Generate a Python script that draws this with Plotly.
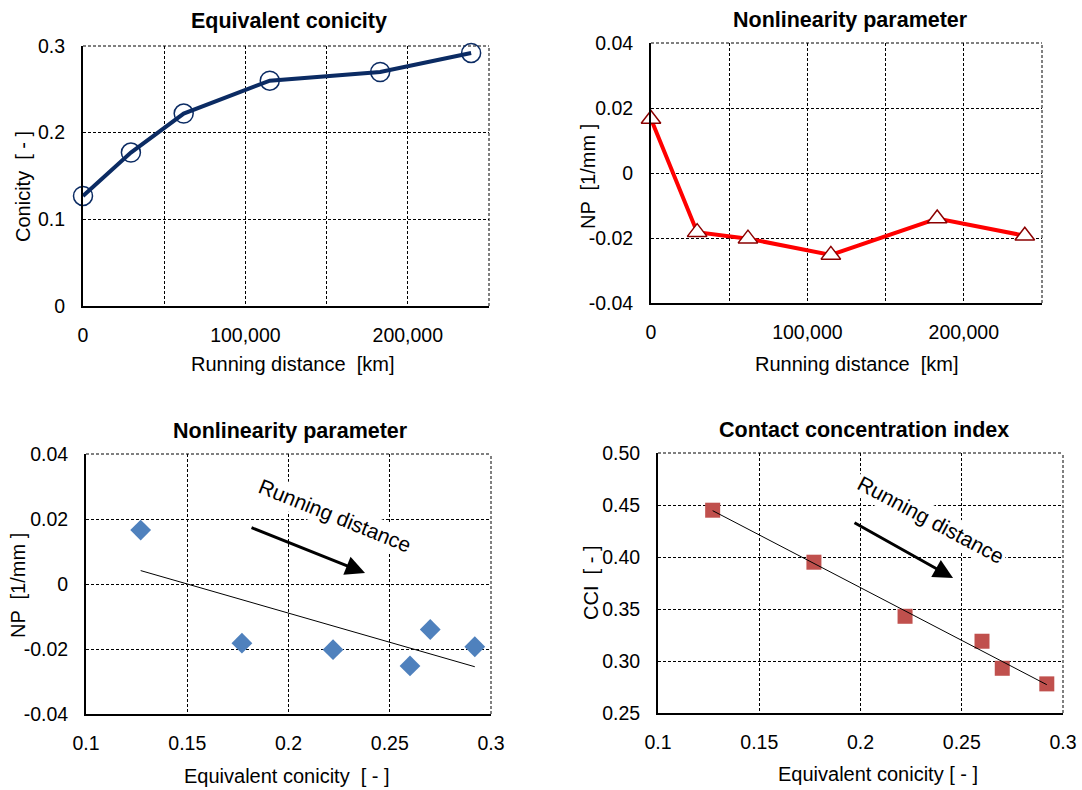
import numpy as np
import plotly.graph_objects as go

# ---------------- data ----------------
distance_km = [0, 29500, 62000, 115000, 183000, 239000]
conicity = [0.127, 0.177, 0.222, 0.260, 0.270, 0.292]
np_values = [0.0166, -0.0182, -0.0202, -0.0252, -0.0140, -0.0193]
cci_values = [0.445, 0.395, 0.343, 0.319, 0.293, 0.278]

dist_tickvals = [0, 100000, 200000]
dist_ticktext = ["0", "100,000", "200,000"]
dist_minor = [50000, 150000]
con_tickvals = [0, 0.1, 0.2, 0.3]
con_ticktext = ["0", "0.1", "0.2", "0.3"]
np_tickvals = [-0.04, -0.02, 0, 0.02, 0.04]
np_ticktext = ["-0.04", "-0.02", "0", "0.02", "0.04"]
ce_tickvals = [0.1, 0.15, 0.2, 0.25, 0.3]
ce_ticktext = ["0.1", "0.15", "0.2", "0.25", "0.3"]
cci_tickvals = [0.25, 0.30, 0.35, 0.40, 0.45, 0.50]
cci_ticktext = ["0.25", "0.30", "0.35", "0.40", "0.45", "0.50"]

W, H = 1082, 790
FONT = "Liberation Sans, Arial, sans-serif"
TICK = 19.5
AX_T = 20
TITLE = 21.5
DASH = "3px,2px"


def px_x(p):
    return p / W


def px_y(p):
    return 1 - p / H


# regression lines
c = np.array(conicity)
k1 = np.polyfit(c, np.array(np_values), 1)
k2 = np.polyfit(c, np.array(cci_values), 1)
xfit = np.array([c.min(), c.max()])

fig = go.Figure()

fig.add_trace(go.Scatter(
    x=distance_km, y=conicity, mode="lines+markers",
    line=dict(color="#0B2B63", width=4),
    marker=dict(symbol="circle-open", size=19, color="#0B2B63", line=dict(width=1.5, color="#0B2B63")),
    xaxis="x", yaxis="y", showlegend=False, cliponaxis=False))

fig.add_trace(go.Scatter(
    x=distance_km, y=np_values, mode="lines+markers",
    line=dict(color="#FF0000", width=4),
    marker=dict(symbol="triangle-up", size=17, color="white", line=dict(width=1.5, color="#8B0000")),
    xaxis="x2", yaxis="y2", showlegend=False, cliponaxis=False))

fig.add_trace(go.Scatter(
    x=xfit, y=np.polyval(k1, xfit), mode="lines",
    line=dict(color="black", width=1),
    xaxis="x3", yaxis="y3", showlegend=False))
fig.add_trace(go.Scatter(
    x=conicity, y=np_values, mode="markers",
    marker=dict(symbol="diamond", size=16, color="#4F81BD"),
    xaxis="x3", yaxis="y3", showlegend=False))

fig.add_trace(go.Scatter(
    x=conicity, y=cci_values, mode="markers",
    marker=dict(symbol="square", size=15, color="#C0504D"),
    xaxis="x4", yaxis="y4", showlegend=False))
fig.add_trace(go.Scatter(
    x=xfit, y=np.polyval(k2, xfit), mode="lines",
    line=dict(color="black", width=1),
    xaxis="x4", yaxis="y4", showlegend=False))


def axis(domain, rng, tv, tt, anchor, minor=None, xaxis=True):
    d = dict(
        domain=domain, range=rng, anchor=anchor, automargin=False,
        tickmode="array", tickvals=tv, ticktext=tt,
        showline=True, linecolor="black", linewidth=2, mirror=False,
        showgrid=True, gridcolor="black", gridwidth=1, griddash=DASH,
        zeroline=False, ticks="",
        ticklabelstandoff=11 if xaxis else 12,
        tickfont=dict(family=FONT, size=TICK, color="black"),
        fixedrange=True,
    )
    if minor is not None:
        d["minor"] = dict(tickmode="array", tickvals=minor, showgrid=True,
                          gridcolor="black", gridwidth=1, griddash=DASH, ticks="")
    return d


# plot areas in window pixels (left, right, top, bottom)
P1 = (83, 489, 46, 306)
P2 = (651, 1042, 43, 303)
P3 = (86, 491, 454, 714)
P4 = (658, 1063, 453, 713)


def dom(P):
    return [px_x(P[0]), px_x(P[1])], [px_y(P[3]), px_y(P[2])]


d1x, d1y = dom(P1)
d2x, d2y = dom(P2)
d3x, d3y = dom(P3)
d4x, d4y = dom(P4)

# dashed top / right frame lines (grid lines at the range ends)
shapes = []
for xa, ya in [("x", "y"), ("x2", "y2"), ("x3", "y3"), ("x4", "y4")]:
    shapes.append(dict(type="line", xref=xa + " domain", yref=ya + " domain",
                       x0=0, x1=1, y0=1, y1=1, layer="below",
                       line=dict(color="black", width=1, dash=DASH)))
    shapes.append(dict(type="line", xref=xa + " domain", yref=ya + " domain",
                       x0=1, x1=1, y0=0, y1=1, layer="below",
                       line=dict(color="black", width=1, dash=DASH)))

fig.update_layout(
    width=W, height=H,
    margin=dict(l=0, r=0, t=0, b=0, autoexpand=False),
    paper_bgcolor="white", plot_bgcolor="white",
    font=dict(family=FONT, color="black"),
    xaxis=axis(d1x, [0, 250000], dist_tickvals, dist_ticktext, "y", dist_minor),
    yaxis=axis(d1y, [0, 0.3], con_tickvals, con_ticktext, "x", xaxis=False),
    xaxis2=axis(d2x, [0, 250000], dist_tickvals, dist_ticktext, "y2", dist_minor),
    yaxis2=axis(d2y, [-0.04, 0.04], np_tickvals, np_ticktext, "x2", xaxis=False),
    xaxis3=axis(d3x, [0.1, 0.3], ce_tickvals, ce_ticktext, "y3"),
    yaxis3=axis(d3y, [-0.04, 0.04], np_tickvals, np_ticktext, "x3", xaxis=False),
    xaxis4=axis(d4x, [0.1, 0.3], ce_tickvals, ce_ticktext, "y4"),
    yaxis4=axis(d4y, [0.25, 0.50], cci_tickvals, cci_ticktext, "x4", xaxis=False),
    shapes=shapes,
)

ann = []


def label(text, x, y, size, bold=False, angle=0):
    ann.append(dict(text=("<b>%s</b>" % text) if bold else text,
                    x=px_x(x), y=px_y(y), xref="paper", yref="paper",
                    xanchor="center", yanchor="middle", showarrow=False,
                    textangle=angle,
                    font=dict(family=FONT, size=size, color="black")))


# titles
label("Equivalent conicity", 289, 21, TITLE, bold=True)
label("Nonlinearity parameter", 850, 20, TITLE, bold=True)
label("Nonlinearity parameter", 290, 431, TITLE, bold=True)
label("Contact concentration index", 864, 430, TITLE, bold=True)

# axis titles
label("Running distance  [km]", 292, 364, AX_T)
label("Conicity  [ - ]", 23, 187, AX_T, angle=-90)
label("Running distance  [km]", 856, 364, AX_T)
label("NP  [1/mm ]", 588, 177, AX_T, angle=-90)
label("Equivalent conicity  [ - ]", 287, 776, AX_T)
label("NP  [1/mm ]", 18, 586, AX_T, angle=-90)
label("Equivalent conicity [ - ]", 878, 774, AX_T)
label("CCI  [ - ]", 591, 583, AX_T, angle=-90)

# "Running distance" callouts
ann.append(dict(text="Running distance", x=0.223, y=0.0212, xref="x3", yref="y3",
                xanchor="center", yanchor="middle", showarrow=False, textangle=22,
                bgcolor="white", borderpad=2,
                font=dict(family=FONT, size=21, color="black")))
ann.append(dict(text="", x=0.2378, y=0.0034, ax=0.181, ay=0.0175,
                xref="x3", yref="y3", axref="x3", ayref="y3",
                showarrow=True, arrowhead=2, arrowsize=1.3, arrowwidth=3, arrowcolor="black"))
ann.append(dict(text="Running distance", x=0.2347, y=0.4363, xref="x4", yref="y4",
                xanchor="center", yanchor="middle", showarrow=False, textangle=28,
                bgcolor="white", borderpad=2,
                font=dict(family=FONT, size=21, color="black")))
ann.append(dict(text="", x=0.2457, y=0.3798, ax=0.1963, ay=0.4337,
                xref="x4", yref="y4", axref="x4", ayref="y4",
                showarrow=True, arrowhead=2, arrowsize=1.3, arrowwidth=3, arrowcolor="black"))

fig.update_layout(annotations=ann)

# remove the default page margin so the 1082x790 figure fills the window exactly
fig.write_html(
    "out.html",
    config={"displayModeBar": False, "staticPlot": True},
    post_script="document.body.style.margin='0';document.body.style.overflow='hidden';",
)
